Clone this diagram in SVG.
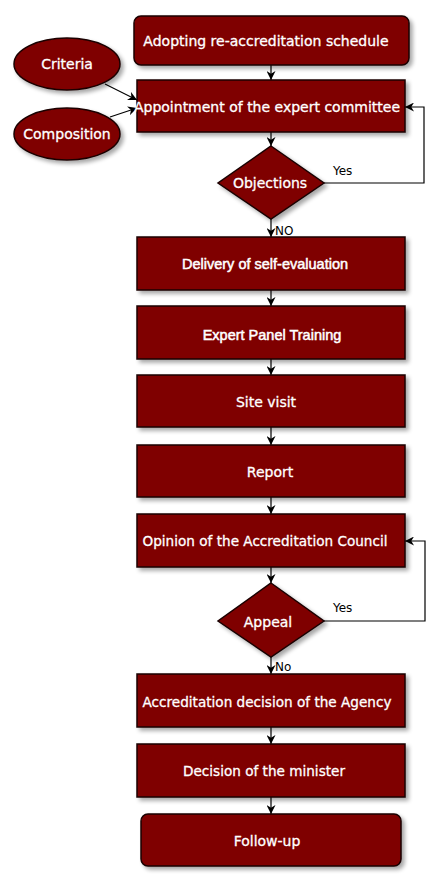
<svg xmlns="http://www.w3.org/2000/svg" width="440" height="881" viewBox="0 0 440 881">
<defs>
<filter id="sh" x="-10%" y="-10%" width="130%" height="140%">
<feGaussianBlur in="SourceAlpha" stdDeviation="2"/>
<feOffset dx="3" dy="3" result="b"/>
<feComponentTransfer><feFuncA type="linear" slope="0.35"/></feComponentTransfer>
<feMerge><feMergeNode/><feMergeNode in="SourceGraphic"/></feMerge>
</filter>
<marker id="ah" viewBox="0 0 10 10" refX="10" refY="5" markerWidth="9" markerHeight="9" markerUnits="userSpaceOnUse" orient="auto">
<path d="M0,0 L10,5 L0,10 L3,5 z" fill="#000"/>
</marker>
</defs>
<style>
.n{fill:#7f0000;stroke:#1a0000;stroke-width:1.5;filter:url(#sh)}
.t{fill:#fff;stroke:#fff;stroke-width:0.3;font-family:"DejaVu Sans",Verdana,sans-serif;font-size:14px;text-anchor:middle;dominant-baseline:central}
.a{font-family:"Liberation Sans",Arial,sans-serif;font-size:14.5px;stroke-width:0.5}
.s{font-size:13.6px}
.c{fill:none;stroke:#000;stroke-width:1.2;marker-end:url(#ah)}
.l{fill:#000;font-family:"DejaVu Sans",Verdana,sans-serif;font-size:12px}
</style>
<rect width="440" height="881" fill="#fff"/>
<g id="connectors">
<line class="c" x1="271" y1="65" x2="271" y2="80"/>
<line class="c" x1="105" y1="84" x2="137" y2="100"/>
<line class="c" x1="110" y1="117" x2="137" y2="108"/>
<line class="c" x1="271" y1="132" x2="271" y2="146"/>
<polyline class="c" points="324,183 424,183 424,107 405,107"/>
<line class="c" x1="271" y1="219" x2="271" y2="237"/>
<line class="c" x1="271" y1="290" x2="271" y2="306"/>
<line class="c" x1="271" y1="359" x2="271" y2="375"/>
<line class="c" x1="271" y1="427" x2="271" y2="445"/>
<line class="c" x1="271" y1="497" x2="271" y2="514"/>
<line class="c" x1="271" y1="567" x2="271" y2="583"/>
<polyline class="c" points="324,621 425,621 425,541 405,541"/>
<line class="c" x1="271" y1="657" x2="271" y2="674"/>
<line class="c" x1="271" y1="727" x2="271" y2="744"/>
<line class="c" x1="271" y1="797" x2="271" y2="814"/>
<text class="l" x="333" y="175">Yes</text>
<text class="l" x="275" y="235">NO</text>
<text class="l" x="333" y="612">Yes</text>
<text class="l" x="275" y="671">No</text>
</g>
<g id="adopting"><rect class="n" x="134" y="16" width="275" height="49" rx="7"/><text class="t" x="266" y="41">Adopting re-accreditation schedule</text></g>
<g id="criteria"><ellipse class="n" cx="67" cy="64" rx="53" ry="26"/><text class="t" x="67" y="64">Criteria</text></g>
<g id="composition"><ellipse class="n" cx="67" cy="134" rx="53" ry="26"/><text class="t" x="67" y="134">Composition</text></g>
<g id="appointment"><rect class="n" x="137" y="80" width="268" height="52"/><text class="t" x="267" y="107">Appointment of the expert committee</text></g>
<g id="objections"><polygon class="n" points="271,146 324,183 271,219 218,183"/><text class="t" x="270" y="183">Objections</text></g>
<g id="delivery"><rect class="n" x="137" y="237" width="268" height="53"/><text class="t a" x="265" y="264">Delivery of self-evaluation</text></g>
<g id="training"><rect class="n" x="137" y="306" width="268" height="53"/><text class="t a" x="272" y="335">Expert Panel Training</text></g>
<g id="site"><rect class="n" x="137" y="375" width="268" height="52"/><text class="t" x="266" y="402">Site visit</text></g>
<g id="report"><rect class="n" x="137" y="445" width="268" height="52"/><text class="t" x="270" y="472">Report</text></g>
<g id="opinion"><rect class="n" x="137" y="514" width="268" height="53"/><text class="t s" x="265" y="541">Opinion of the Accreditation Council</text></g>
<g id="appeal"><polygon class="n" points="271,583 324,621 271,657 218,621"/><text class="t" x="268" y="622">Appeal</text></g>
<g id="agency"><rect class="n" x="137" y="674" width="268" height="53"/><text class="t s" x="267" y="702">Accreditation decision of the Agency</text></g>
<g id="minister"><rect class="n" x="137" y="744" width="268" height="53"/><text class="t s" x="264" y="771">Decision of the minister</text></g>
<g id="followup"><rect class="n" x="141" y="814" width="260" height="52" rx="7"/><text class="t" x="267" y="841">Follow-up</text></g>
</svg>
